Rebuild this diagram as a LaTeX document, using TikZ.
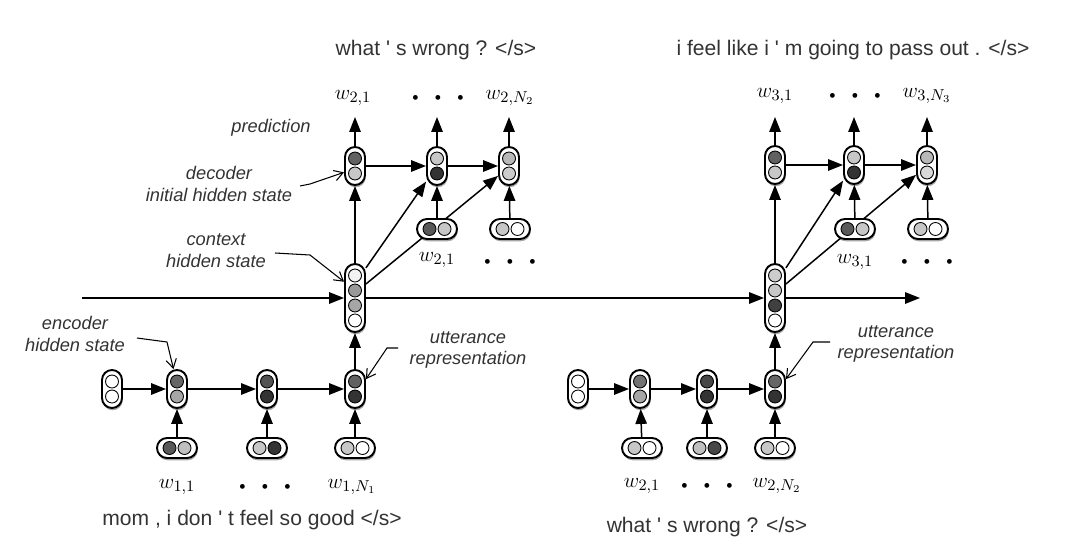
\documentclass[tikz,border=0pt]{standalone}
\usepackage{fontspec}
\newfontfamily\lsans{Liberation Sans}
\usetikzlibrary{arrows.meta,shadows}
\pgfdeclarelayer{bg}
\pgfsetlayers{bg,main}
\newcommand\vtwo[5]{%
  \node[cellv] (#1) at (#2,#3) {};
  \node[dot,fill=#4] at ([yshift=0.15cm]#1.center) {};
  \node[dot,fill=#5] at ([yshift=-0.15cm]#1.center) {};}
\newcommand\htwo[5]{%
  \node[cellh] (#1) at (#2,#3) {};
  \node[dot,fill=#4] at ([xshift=-0.15cm]#1.center) {};
  \node[dot,fill=#5] at ([xshift=0.15cm]#1.center) {};}
\newcommand\vfour[7]{%
  \node[cellv,minimum height=1.36cm] (#1) at (#2,#3) {};
  \node[dot,fill=#4] at ([yshift=0.45cm]#1.center) {};
  \node[dot,fill=#5] at ([yshift=0.15cm]#1.center) {};
  \node[dot,fill=#6] at ([yshift=-0.15cm]#1.center) {};
  \node[dot,fill=#7] at ([yshift=-0.45cm]#1.center) {};}
\newcommand\mydots{{\fontsize{6}{7}\selectfont$\bullet\mkern17mu\bullet\mkern17mu\bullet$}}
\begin{document}
\begin{tikzpicture}[x=0.02cm,y=-0.02cm,
  cellv/.style={draw,line width=1.1pt,fill=white,rounded corners=0.2cm,
    minimum width=0.4cm,minimum height=0.76cm,inner sep=0pt,
    drop shadow={shadow xshift=0.4pt,shadow yshift=-1.3pt,opacity=0.35,fill=black}},
  cellh/.style={cellv,minimum width=0.8cm,minimum height=0.4cm},
  dot/.style={circle,draw,line width=0.5pt,minimum size=0.26cm,inner sep=0pt},
  conn/.style={line width=0.85pt,-{Triangle[length=8.5pt,width=6.5pt]}},
  ann/.style={line width=0.6pt,-{Straight Barb[length=5pt,width=6pt]}},
  sent/.style={font=\lsans\fontsize{12}{14}\selectfont,text=black!80},
  lab/.style={font=\lsans\itshape\fontsize{10.4}{12.5}\selectfont,text=black!80,align=center},
  mlab/.style={font=\fontsize{13}{15}\selectfont,inner sep=1pt}]
\useasboundingbox (0,0) rectangle (1067,547);

% ---------------- left encoder ----------------
\vtwo{le0}{112}{389}{white}{white}
\vtwo{le1}{177}{389}{black!60}{black!35}
\vtwo{le2}{267}{389}{black!68}{black!80}
\vtwo{le3}{355}{389}{black!62}{black!80}
\htwo{li1}{177}{448}{black!65}{black!25}
\htwo{li2}{267}{448}{black!22}{black!80}
\htwo{li3}{355}{448}{black!22}{white}
\vfour{c1}{355}{298}{black!5}{black!40}{black!35}{white}
% left decoder
\vtwo{ld1}{355}{166}{black!62}{black!22}
\vtwo{ld2}{437}{166}{black!22}{black!80}
\vtwo{ld3}{509}{166}{black!28}{black!20}
\htwo{ldi2}{437}{229}{black!65}{black!22}
\htwo{ldi3}{510}{229}{black!22}{white}

% ---------------- right encoder ----------------
\vtwo{re0}{578}{389}{white}{white}
\vtwo{re1}{640}{389}{black!55}{black!35}
\vtwo{re2}{707}{389}{black!72}{black!80}
\vtwo{re3}{775}{389}{black!60}{black!80}
\htwo{ri1}{642}{448}{black!22}{white}
\htwo{ri2}{707}{448}{black!25}{black!72}
\htwo{ri3}{775}{448}{black!22}{white}
\vfour{c2}{775}{298}{black!20}{black!22}{black!75}{white}
% right decoder
\vtwo{rd1}{775}{165}{black!62}{black!22}
\vtwo{rd2}{854}{165}{black!22}{black!80}
\vtwo{rd3}{927}{165}{black!28}{black!15}
\htwo{rdi2}{855}{229}{black!65}{black!22}
\htwo{rdi3}{928}{229}{black!22}{white}

% coordinates
\coordinate (hs) at (82,298);
\coordinate (he) at (920,298);
\coordinate (lo1) at (355,117);
\coordinate (lo2) at (437,117);
\coordinate (lo3) at (509,117);
\coordinate (ro1) at (775,117);
\coordinate (ro2) at (854,117);
\coordinate (ro3) at (927,117);
\coordinate (aDec) at (300,186);
\coordinate (aDecK) at (310,184);
\coordinate (aCtx) at (275,253);
\coordinate (aCtxK) at (310,255);
\coordinate (aEnc) at (137,338);
\coordinate (aEncK) at (167,342);
\coordinate (aUl) at (398,348);
\coordinate (aUlK) at (387,348);
\coordinate (aUr) at (830,342);
\coordinate (aUrK) at (813,342);

% ---------------- texts ----------------
\node[sent] (t1) at (436,50) {what \textquotesingle\ s wrong ? </s>};
\node[sent] (t2) at (853,50) {i feel like i \textquotesingle\ m going to pass out . </s>};
\node[sent] (b1) at (252,520) {mom , i don \textquotesingle\ t feel so good </s>};
\node[sent] (b2) at (707,527) {what \textquotesingle\ s wrong ? </s>};

\node[mlab] at (353,98) {$w_{2,1}$};
\node[mlab] at (438,98) {\mydots};
\node[mlab] at (510,98) {$w_{2,N_2}$};
\node[mlab] at (775,96) {$w_{3,1}$};
\node[mlab] at (855,96) {\mydots};
\node[mlab] at (927,96) {$w_{3,N_3}$};
\node[mlab] at (437,260) {$w_{2,1}$};
\node[mlab] at (510,262) {\mydots};
\node[mlab] at (855,262) {$w_{3,1}$};
\node[mlab] at (927,262) {\mydots};
\node[mlab] at (177,487) {$w_{1,1}$};
\node[mlab] at (265,487) {\mydots};
\node[mlab] at (352,487) {$w_{1,N_1}$};
\node[mlab] at (642,486) {$w_{2,1}$};
\node[mlab] at (707,486) {\mydots};
\node[mlab] at (777,486) {$w_{2,N_2}$};

\node[lab] (lpred) at (271,128) {prediction};
\node[lab] (ldec) at (219,184) {decoder\\initial hidden state};
\node[lab] (lctx) at (216,251) {context\\hidden state};
\node[lab] (lenc) at (75,334) {encoder\\hidden state};
\node[lab] (lutl) at (468,350) {utterance\\representation};
\node[lab] (lutr) at (896,344) {utterance\\representation};

% ---------------- connectors ----------------
\begin{pgfonlayer}{bg}
\draw[conn] (hs) -- (c1);
\draw[conn] (c1) -- (c2);
\draw[conn] (c2) -- (he);
% left
\draw[conn] (le0) -- (le1);
\draw[conn] (le1) -- (le2);
\draw[conn] (le2) -- (le3);
\draw[conn] (li1) -- (le1);
\draw[conn] (li2) -- (le2);
\draw[conn] (li3) -- (le3);
\draw[conn] (le3) -- (c1);
\draw[conn] (c1) -- (ld1);
\draw[conn] (c1.70) -- (ld2.235);
\draw[conn] (c1.52) -- (ld3.222);
\draw[conn] (ld1) -- (ld2);
\draw[conn] (ld2) -- (ld3);
\draw[conn] (ldi2) -- (ld2);
\draw[conn] (ldi3) -- (ld3);
\draw[conn] (ld1) -- (lo1);
\draw[conn] (ld2) -- (lo2);
\draw[conn] (ld3) -- (lo3);
% right
\draw[conn] (re0) -- (re1);
\draw[conn] (re1) -- (re2);
\draw[conn] (re2) -- (re3);
\draw[conn] (ri1) -- (re1);
\draw[conn] (ri2) -- (re2);
\draw[conn] (ri3) -- (re3);
\draw[conn] (re3) -- (c2);
\draw[conn] (c2) -- (rd1);
\draw[conn] (c2.70) -- (rd2.235);
\draw[conn] (c2.52) -- (rd3.222);
\draw[conn] (rd1) -- (rd2);
\draw[conn] (rd2) -- (rd3);
\draw[conn] (rdi2) -- (rd2);
\draw[conn] (rdi3) -- (rd3);
\draw[conn] (rd1) -- (ro1);
\draw[conn] (rd2) -- (ro2);
\draw[conn] (rd3) -- (ro3);
\end{pgfonlayer}
% annotations
\draw[ann] (aDec) -- (aDecK) -- (ld1.210);
\draw[ann] (aCtx) -- (aCtxK) -- (c1.124);
\draw[ann] (aEnc) -- (aEncK) -- (le1.100);
\draw[ann] (aUl) -- (aUlK) -- (le3.42);
\draw[ann] (aUr) -- (aUrK) -- (re3.42);
\end{tikzpicture}
\end{document}
